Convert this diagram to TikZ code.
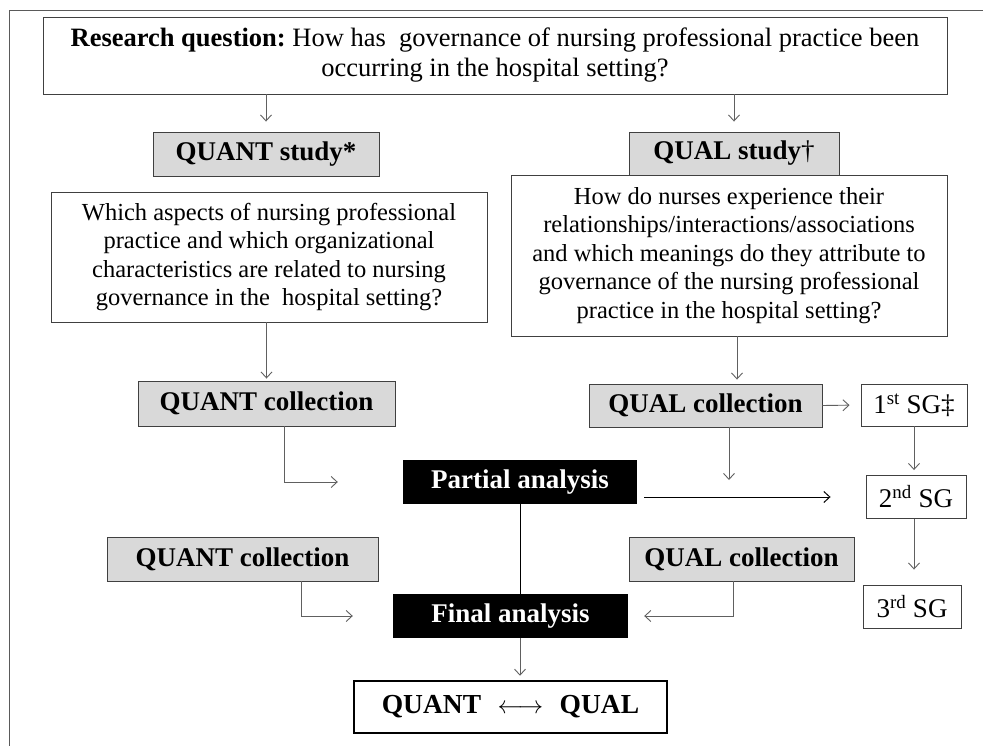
\documentclass[tikz,border=0pt]{standalone}
\usepackage{fontspec}
\setmainfont{Liberation Serif}
\usetikzlibrary{arrows.meta,calc}
\definecolor{boxline}{HTML}{404040}
\definecolor{boxgray}{HTML}{D9D9D9}
\definecolor{connc}{HTML}{606060}
\definecolor{framec}{HTML}{5A5A5A}
\frenchspacing
\begin{document}
\begin{tikzpicture}[x=1pt,y=-1pt,
  plain/.style={draw=boxline, line width=0.9pt, fill=white, inner sep=0pt, align=center},
  graybox/.style={plain, fill=boxgray, font=\bfseries\fontsize{27}{30}\selectfont},
  blackbox/.style={fill=black, text=white, inner sep=0pt, font=\bfseries\fontsize{27}{30}\selectfont},
  qtext/.style={font=\fontsize{24.5}{28.5}\selectfont},
  sgtext/.style={font=\fontsize{27}{30}\selectfont},
  conn/.style={draw=connc, line width=0.9pt, -{Straight Barb[length=6pt,width=11pt]}},
  connblack/.style={draw=black, line width=1pt, -{Straight Barb[length=6pt,width=11pt]}},
  linkblack/.style={draw=black, line width=1pt}
]
\useasboundingbox (0,0) rectangle (983,746);
\fill[white] (0,0) rectangle (983,746);
\draw[framec, line width=1pt] (9,746) -- (9,11) -- (983,11);

\node[plain, minimum width=904pt, minimum height=77pt, font=\fontsize{26.5}{30}\selectfont] (rq) at (495,55.5)
  {\textbf{Research question:} How has\ \ governance of nursing professional practice been\\occurring in the hospital setting?};

\node[graybox, minimum width=226pt, minimum height=44pt] (qs) at (266,154) {QUANT study*};
\node[graybox, minimum width=210pt, minimum height=43pt] (ls) at (734,153.5) {QUAL study\textmd{†}};

\node[plain, qtext, minimum width=436pt, minimum height=130pt] (lq) at (269,257)
  {Which aspects of nursing professional\\practice and which organizational\\characteristics are related to nursing\\governance in the\ \ hospital setting?};
\node[plain, qtext, minimum width=436pt, minimum height=161pt] (rqq) at (729,255.5)
  {How do nurses experience their\\relationships/interactions/associations\\and which meanings do they attribute to\\governance of the nursing professional\\practice in the hospital setting?};

\node[graybox, minimum width=257pt, minimum height=45pt] (qc1) at (266.5,403.5) {QUANT collection};
\node[graybox, minimum width=233pt, minimum height=43pt] (lc1) at (705.5,405.5) {QUAL collection};
\node[plain, sgtext, minimum width=106pt, minimum height=42pt] (sg1) at (914,405) {1\textsuperscript{st} SG‡};
\node[blackbox, minimum width=234pt, minimum height=44pt] (pa) at (520,482) {Partial analysis};
\node[plain, sgtext, minimum width=100pt, minimum height=43pt] (sg2) at (916,497) {2\textsuperscript{nd} SG};
\node[graybox, minimum width=271pt, minimum height=44pt] (qc2) at (242.5,559) {QUANT collection};
\node[graybox, minimum width=225pt, minimum height=44pt] (lc2) at (741.5,559) {QUAL collection};
\node[plain, sgtext, minimum width=98pt, minimum height=43pt] (sg3) at (912,606.5) {3\textsuperscript{rd} SG};
\node[blackbox, minimum width=235pt, minimum height=44pt] (fa) at (510.5,616) {Final analysis};
\node[draw=black, line width=2.5pt, fill=white, inner sep=0pt, minimum width=313pt, minimum height=52pt,
  font=\bfseries\fontsize{27.5}{30}\selectfont] (bb) at (510.5,707)
  {QUANT\hspace{0.6em}$\longleftrightarrow$\hspace{0.6em}QUAL};

% connectors
\draw[conn, shorten >=10pt] (rq.south -| qs) -- (qs.north);
\draw[conn, shorten >=10pt] (rq.south -| ls) -- (ls.north);
\draw[conn, shorten >=2pt] (lq.south -| qc1) -- (qc1.north);
\draw[conn, shorten >=4pt] ([xshift=8pt]rqq.south) -- ([xshift=8pt]rqq.south |- lc1.north);
\draw[conn] ([xshift=17.5pt]qc1.south) |- ([xshift=-65pt]pa.west);
\coordinate (lcend) at (729,480);
\draw[conn] (lc1.south -| lcend) -- (lcend);
\draw[conn, shorten >=11pt] (lc1.east) -- (sg1.west);
\draw[conn, shorten >=5pt] (sg1.south) -- (sg1.south |- sg2.north);
\draw[connblack, shorten >=35pt] ([xshift=7pt]pa.east |- sg2.west) -- (sg2.west);
\draw[conn, shorten >=15pt] (sg2.south -| sg1) -- (sg3.north -| sg1);
\draw[linkblack] (pa.south) -- (pa.south |- fa.north);
\draw[conn] ([xshift=58.5pt]qc2.south) |- ([xshift=-40pt]fa.west);
\draw[conn] ([xshift=-8.5pt]lc2.south) |- ([xshift=16pt]fa.east);
\draw[conn, shorten >=4pt] (pa.south |- fa.south) -- (pa.south |- bb.north);
\end{tikzpicture}
\end{document}
